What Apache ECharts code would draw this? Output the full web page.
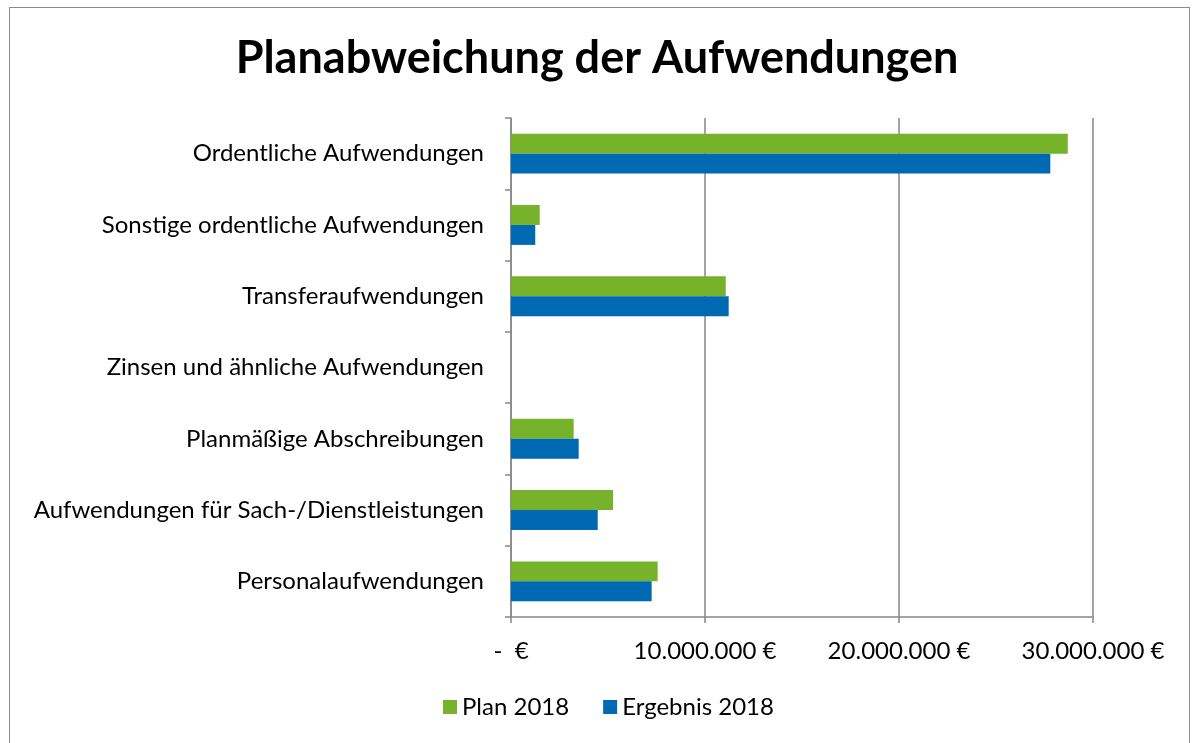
<!DOCTYPE html>
<html>
<head>
<meta charset="utf-8">
<script src="https://cdn.jsdelivr.net/npm/echarts@6/dist/echarts.min.js"></script>
<style>
  html, body { margin: 0; padding: 0; background: #fff; }
  #frame { position: absolute; left: 9px; top: 7px; width: 1181px; height: 740px; border: 1px solid #8c8c8c; border-bottom: none; box-sizing: border-box; }
  #chart { width: 1194px; height: 743px; }
</style>
</head>
<body>
<div id="frame"></div>
<div id="chart"></div>
<script>
  // Kategorien von unten nach oben
  var categories = [
    'Personalaufwendungen',
    'Aufwendungen für Sach-/Dienstleistungen',
    'Planmäßige Abschreibungen',
    'Zinsen und ähnliche Aufwendungen',
    'Transferaufwendungen',
    'Sonstige ordentliche Aufwendungen',
    'Ordentliche Aufwendungen'
  ];
  var plan2018 = [7560000, 5260000, 3230000, 0, 11070000, 1480000, 28700000];
  var ergebnis2018 = [7250000, 4470000, 3490000, 0, 11220000, 1250000, 27800000];
  var seriesNames = ['Plan 2018', 'Ergebnis 2018'];

  var fontFam = 'Lato, "Open Sans", sans-serif';

  function euro(v) {
    if (v === 0) return '-  €';
    return String(v).replace(/\B(?=(\d{3})+(?!\d))/g, '.') + ' €';
  }

  var chart = echarts.init(document.getElementById('chart'));
  chart.setOption({
    animation: false,
    title: {
      text: 'Planabweichung der Aufwendungen',
      left: 'center',
      top: 31,
      textStyle: { fontFamily: fontFam, fontSize: 45, fontWeight: 'bold', color: '#000' }
    },
    legend: {
      data: seriesNames,
      bottom: 19,
      left: 438,
      itemWidth: 14,
      itemHeight: 14,
      itemGap: 34,
      icon: 'rect',
      textStyle: { fontFamily: fontFam, fontSize: 24, color: '#000' }
    },
    grid: { left: 511, right: 101, top: 118, bottom: 126 },
    xAxis: {
      type: 'value',
      min: 0,
      max: 30000000,
      interval: 10000000,
      axisLine: { show: true, lineStyle: { color: '#868686', width: 1.5 } },
      axisTick: { show: true, length: 6, lineStyle: { color: '#868686', width: 1.5 } },
      splitLine: { show: true, lineStyle: { color: '#868686', width: 1.5 } },
      axisLabel: { margin: 22, fontFamily: fontFam, fontSize: 24, color: '#000', formatter: euro }
    },
    yAxis: {
      type: 'category',
      data: categories,
      axisLine: { show: true, lineStyle: { color: '#868686', width: 1.5 } },
      axisTick: { show: true, length: 6, lineStyle: { color: '#868686', width: 1.5 } },
      axisLabel: { margin: 27, fontFamily: fontFam, fontSize: 24, color: '#000' }
    },
    series: [
      {
        name: 'Plan 2018',
        type: 'bar',
        data: plan2018,
        barGap: '0%',
        barCategoryGap: '44%',
        itemStyle: { color: '#77B32A' }
      },
      {
        name: 'Ergebnis 2018',
        type: 'bar',
        data: ergebnis2018,
        barGap: '0%',
        barCategoryGap: '44%',
        itemStyle: { color: '#0069B4' }
      }
    ]
  });
</script>
</body>
</html>
